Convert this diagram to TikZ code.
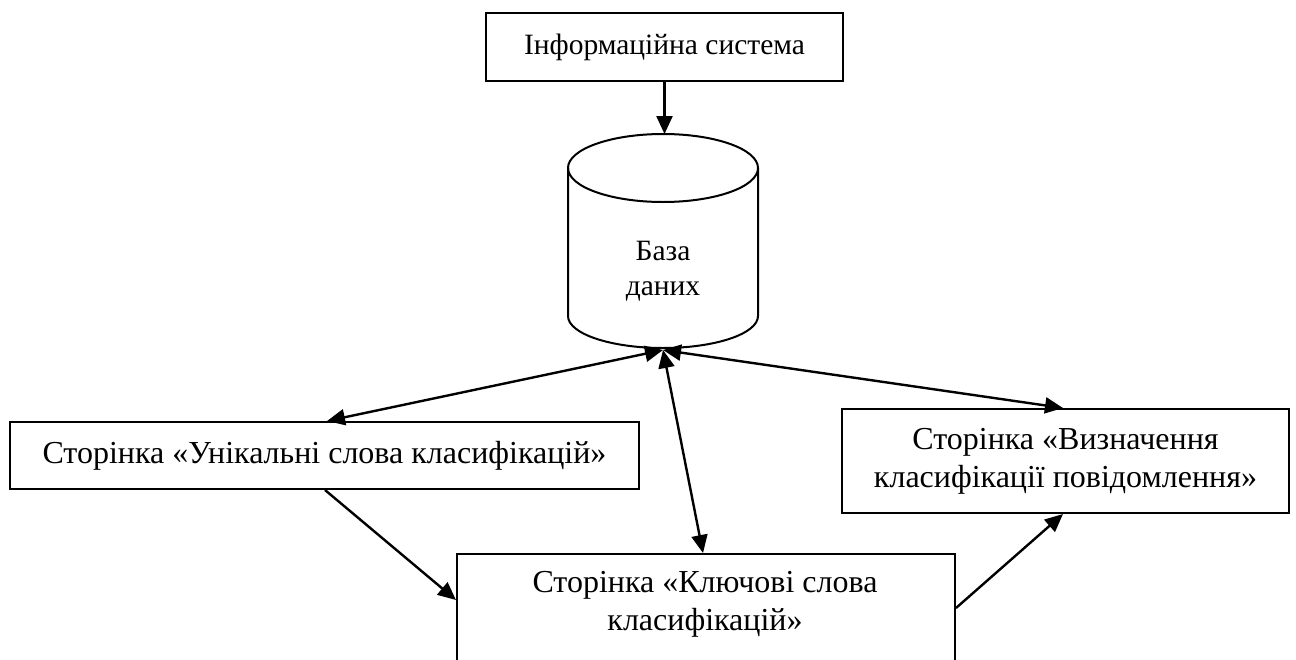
\documentclass[tikz,border=0pt]{standalone}
\usepackage{fontspec}
\setmainfont{Liberation Serif}
\usetikzlibrary{arrows.meta,calc}
\begin{document}
\begin{tikzpicture}[x=1pt,y=1pt,
  box/.style={draw, line width=2pt, inner sep=0pt, align=center},
  txt/.style={font=\fontsize{32}{38}\selectfont, align=center, inner sep=0pt},
  txts/.style={font=\fontsize{29.5}{35}\selectfont, align=center, inner sep=0pt},
  con/.style={line width=2.4pt, -{Triangle[length=18pt,width=16pt]}},
  bicon/.style={line width=2.4pt, {Triangle[length=18pt,width=16pt]}-{Triangle[length=18pt,width=16pt]}}]
\useasboundingbox (0,0) rectangle (1296,-659);
\fill[white] (0,0) rectangle (1296,-659);
\clip (0,0) rectangle (1296,-659);
% top box
\node[box, minimum width=357pt, minimum height=68pt, txts] (is) at (664.5,-47) {Інформаційна система};
% cylinder
\draw[line width=2pt, fill=white] (568,-168) -- (568,-316) arc[start angle=180, end angle=360, x radius=95pt, y radius=32pt] -- (758,-168);
\draw[line width=2pt] (663,-168) ellipse [x radius=95pt, y radius=34pt];
\coordinate (dbtop) at (664.5,-134);
\coordinate (dbbot) at (663,-350);
\node[txts] (db) at (663,-271) {База\\даних};
% left box
\node[box, minimum width=629pt, minimum height=67pt, txt] (uw) at (324.5,-455.5) {Сторінка «Унікальні слова класифікацій»};
% right box
\node[box, minimum width=447pt, minimum height=104pt, txt] (dc) at (1065.5,-461) {Сторінка «Визначення\\класифікації повідомлення»};
% bottom box (cut off by the page edge)
\node[draw, line width=2pt, inner sep=0pt, minimum width=498pt, minimum height=200pt, anchor=north west] (kw) at (456,-553) {};
\node[txt] (kwt) at (705,-604) {Сторінка «Ключові слова\\класифікацій»};
% connectors
\draw[con] (is.south) -- (dbtop);
\draw[bicon] (dbbot) -- ([xshift=2.5pt]uw.north);
\draw[bicon] (dbbot) -- ([xshift=247pt]kw.north west);
\draw[bicon] (dbbot) -- ([xshift=-2.5pt]dc.north);
\draw[con] ([xshift=0.5pt]uw.south) -- ([yshift=-47pt]kw.north west);
\draw[con] ([yshift=-55pt]kw.north east) -- ([xshift=-2.5pt]dc.south);
\end{tikzpicture}
\end{document}
